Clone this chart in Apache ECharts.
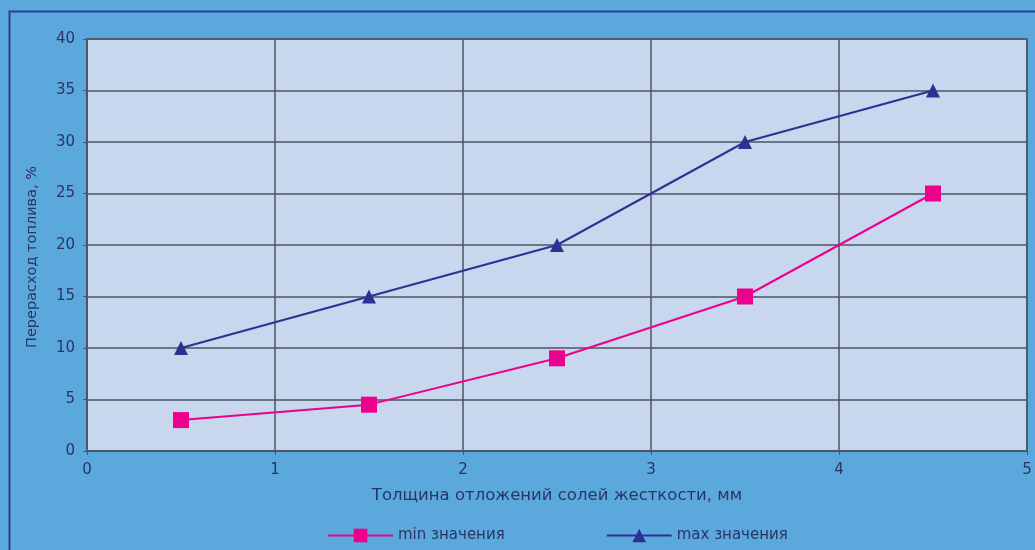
<!DOCTYPE html>
<html><head><meta charset="utf-8">
<script src="https://cdn.jsdelivr.net/npm/echarts@6/dist/echarts.min.js"></script>
<style>html,body{margin:0;padding:0;background:#5ba8dc;}#c{width:1035px;height:550px;}</style>
</head><body><div id="c"></div>
<script>
const xValues = [0.5, 1.5, 2.5, 3.5, 4.5];
const minValues = [3, 4.5, 9, 15, 25];
const maxValues = [10, 15, 20, 30, 35];
const seriesNames = ['min значения', 'max значения'];
const xAxisTitle = 'Толщина отложений солей жесткости, мм';
const yAxisTitle = 'Перерасход топлива, %';

const chart = echarts.init(document.getElementById('c'), null, {renderer: 'canvas'});
const txt = '#2a3566';
const gridCol = '#4d5566';
const ff = 'DejaVu Sans';
chart.setOption({
  backgroundColor: '#5ba8dc',
  animation: false,
  graphic: [{
    type: 'rect', shape: {x: 9.5, y: 11.5, width: 1040, height: 560},
    style: {fill: 'none', stroke: '#2e3a9a', lineWidth: 2}, silent: true
  }],
  grid: {left: 87, right: 8, top: 39, bottom: 99, show: true, backgroundColor: '#c8d6ee', borderColor: gridCol, borderWidth: 1.5},
  legend: {
    bottom: 2, left: 322, itemGap: 101, itemWidth: 65, itemHeight: 17,
    textStyle: {color: txt, fontFamily: ff, fontSize: 15},
    data: seriesNames
  },
  xAxis: {
    type: 'value', min: 0, max: 5, interval: 1,
    name: xAxisTitle, nameLocation: 'middle', nameGap: 36,
    nameTextStyle: {color: txt, fontFamily: ff, fontSize: 16.5},
    axisLine: {show: true, lineStyle: {color: gridCol, width: 1.5}},
    axisTick: {show: true, length: 4, lineStyle: {color: gridCol}},
    axisLabel: {color: txt, fontFamily: ff, fontSize: 15, margin: 12},
    splitLine: {show: true, lineStyle: {color: gridCol, width: 1.5}}
  },
  yAxis: {
    type: 'value', min: 0, max: 40, interval: 5,
    name: yAxisTitle, nameLocation: 'middle', nameGap: 47,
    nameTextStyle: {color: txt, fontFamily: ff, fontSize: 14.5, padding: [0, 24, 0, 0]},
    axisLine: {show: true, lineStyle: {color: gridCol, width: 1.5}},
    axisTick: {show: true, length: 4, lineStyle: {color: gridCol}},
    axisLabel: {color: txt, fontFamily: ff, fontSize: 15, margin: 12},
    splitLine: {show: true, lineStyle: {color: gridCol, width: 1.5}}
  },
  series: [
    {name: seriesNames[0], type: 'line', data: xValues.map((x, i) => [x, minValues[i]]),
     symbol: 'rect', symbolSize: 16, color: '#ec008c', lineStyle: {width: 2, color: '#ec008c'}, itemStyle: {color: '#ec008c'}},
    {name: seriesNames[1], type: 'line', data: xValues.map((x, i) => [x, maxValues[i]]),
     symbol: 'triangle', symbolSize: 14, color: '#2e3192', lineStyle: {width: 2, color: '#2e3192'}, itemStyle: {color: '#2e3192'}}
  ]
});
</script></body></html>
